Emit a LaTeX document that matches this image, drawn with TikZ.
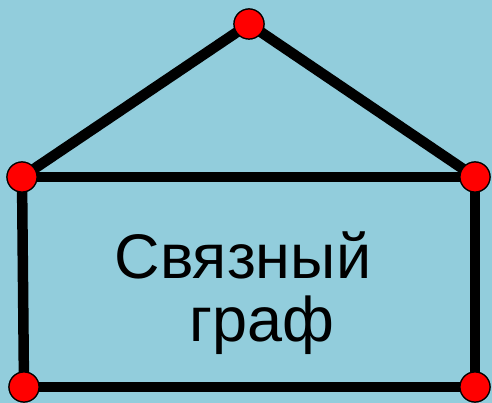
\documentclass[tikz,border=0pt]{standalone}
\usepackage{fontspec}
\setmainfont{Liberation Sans}
\usetikzlibrary{positioning}
\definecolor{bgBlue}{HTML}{92CDDC}
\definecolor{dotRed}{HTML}{FF0000}

\begin{document}
\begin{tikzpicture}[
  x=1pt, y=-1pt,
  %% Node styles
  vertex/.style={
    circle, draw=black, fill=dotRed,
    line width=1.2pt, minimum size=30pt, inner sep=0pt
  },
  label/.style={
    font=\fontsize{63}{70}\selectfont, anchor=base, inner sep=0pt
  },
  %% Edge style
  edge/.style={line width=10.5pt, draw=black},
]

%% ── Background ─────────────────────────────────────────────────────────────
\fill[bgBlue] (0,0) rectangle (492,403);
\useasboundingbox (0,0) rectangle (492,403);

%% ── Vertices ───────────────────────────────────────────────────────────────
\node[vertex] (top)  at (249,24)  {};
\node[vertex] (ml)   at (22,177)  {};
\node[vertex] (mr)   at (475,177) {};
\node[vertex] (bl)   at (24,387)  {};
\node[vertex] (br)   at (475,387) {};

%% ── Text ───────────────────────────────────────────────────────────────────
\node[label] (word1) at (243,278) {Связный};
\node[label] (word2) at (262,341) {граф};

%% ── Edges ──────────────────────────────────────────────────────────────────
\draw[edge] (top.center) -- (ml.center);
\draw[edge] (top.center) -- (mr.center);
\draw[edge] (ml.center)  -- (mr.center);
\draw[edge] (ml.center)  -- (bl.center);
\draw[edge] (mr.center)  -- (br.center);
\draw[edge] (bl.center)  -- (br.center);

%% redraw vertices over the edges
\foreach \v in {top,ml,mr,bl,br}
  \node[vertex] at (\v) {};

\end{tikzpicture}
\end{document}
